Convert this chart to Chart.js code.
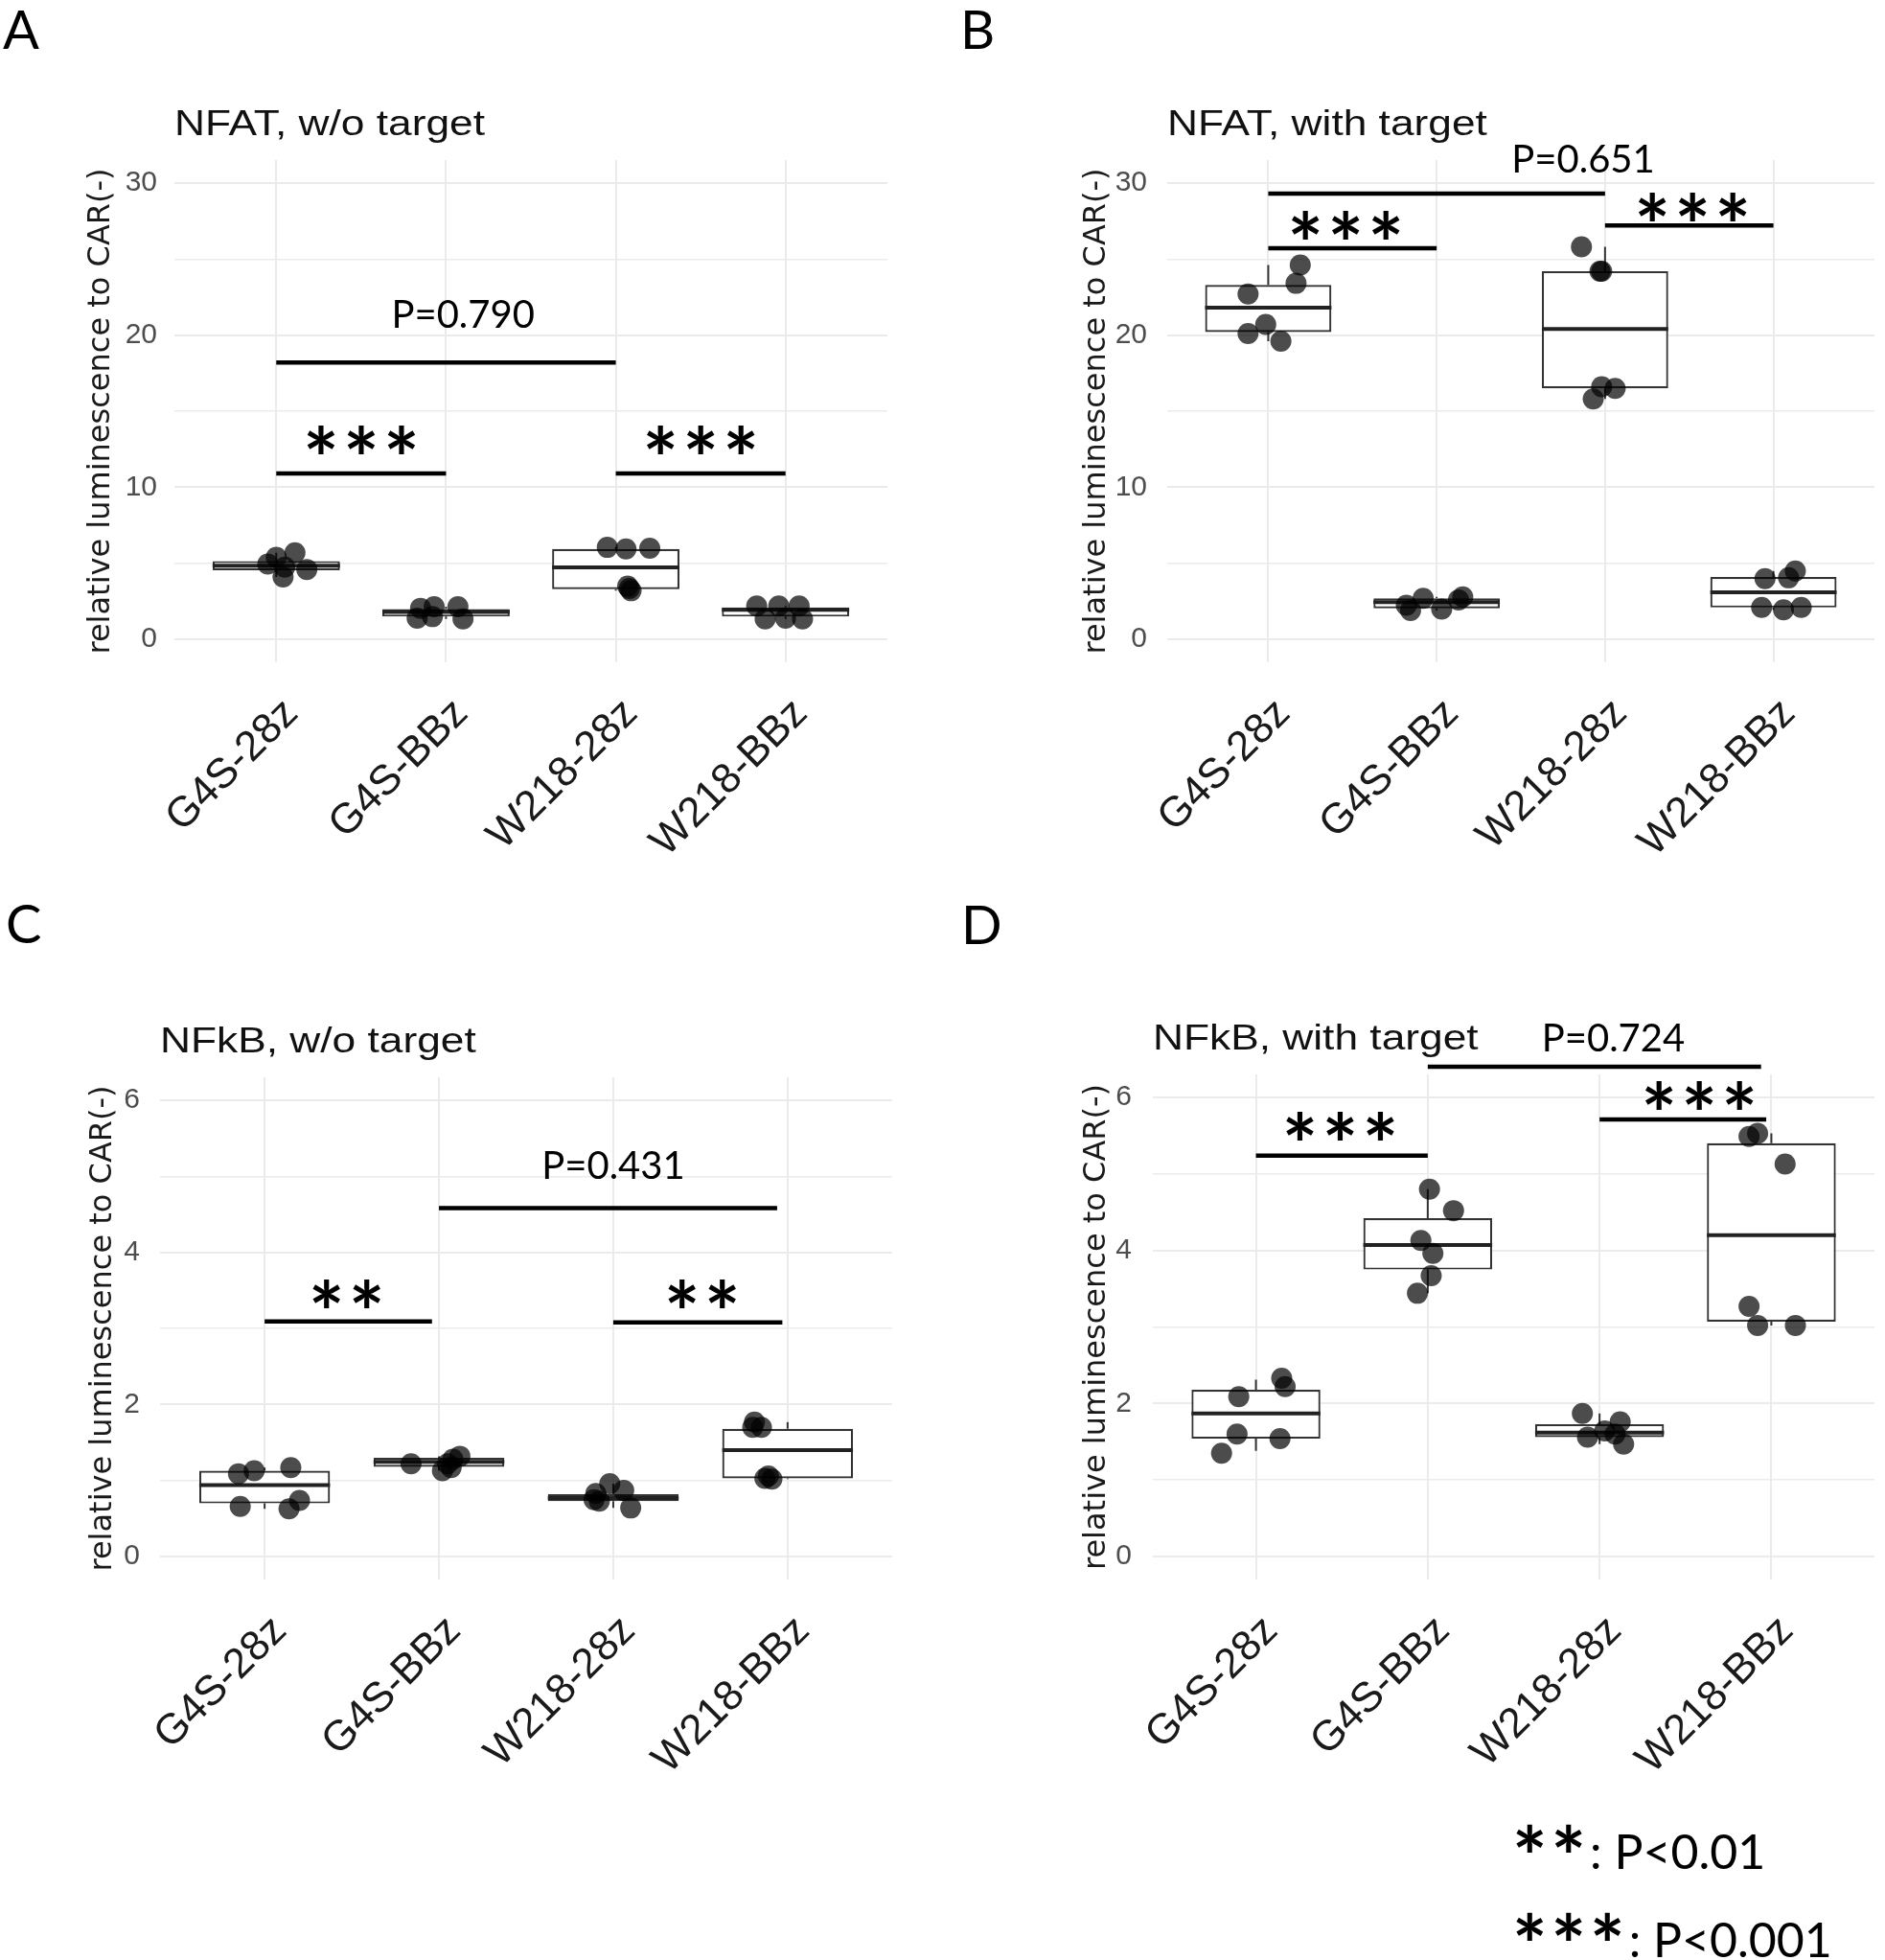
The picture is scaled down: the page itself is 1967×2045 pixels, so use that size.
<!DOCTYPE html>
<html>
<head>
<meta charset="utf-8">
<script src="https://cdn.jsdelivr.net/npm/chart.js@4.4.1/dist/chart.umd.min.js"></script>
<style>
  body { margin: 0; background: #fff; width: 1967px; height: 2045px; position: relative; overflow: hidden; }
  canvas { position: absolute; }
  .tag { position: absolute; font: 56px/56px Lato, sans-serif; color: #000; }
  .key { position: absolute; font: 50px/50px Lato, sans-serif; color: #000; white-space: nowrap; }
  .key .st { font-size: 86px; font-weight: 700; line-height: 0; letter-spacing: 4px; position: relative; top: 19px; }
</style>
</head>
<body>
<div class="tag" style="left:3px;top:2px">A</div>
<div class="tag" style="left:1002px;top:2px">B</div>
<div class="tag" style="left:6px;top:935px">C</div>
<div class="tag" style="left:1003px;top:936px">D</div>

<canvas id="chartA" width="983" height="940" style="left:0;top:0"></canvas>
<canvas id="chartB" width="984" height="940" style="left:983px;top:0"></canvas>
<canvas id="chartC" width="983" height="940" style="left:0;top:940px"></canvas>
<canvas id="chartD" width="984" height="940" style="left:983px;top:940px"></canvas>

<div class="key" style="left:1578px;top:1906px"><span class="st">**</span>: P&lt;0.01</div>
<div class="key" style="left:1578px;top:1998px"><span class="st">***</span>: P&lt;0.001</div>

<script>
const categories = ['G4S-28z', 'G4S-BBz', 'W218-28z', 'W218-BBz']
const yTitle = 'relative luminescence to CAR(-)'

const nfatTicks = [0, 10, 20, 30]
const nfatMinor = [5, 15, 25]
const nfkbTicks = [0, 2, 4, 6]
const nfkbMinor = [1, 3, 5]

// box rows are [lower whisker, q1, median, q3, upper whisker]

// ---- A: NFAT, w/o target
const nfatNoTgtPts = [
    [5.7, 5.4, 4.95, 4.75, 4.6, 4.1],
    [2.05, 2.15, 2.15, 1.4, 1.5, 1.35],
    [6.05, 5.95, 6.0, 3.5, 3.35, 3.2],
    [2.2, 2.2, 2.2, 1.35, 1.4, 1.35]
]
const nfatNoTgtJit = [
    [0.11, 0.0, -0.05, 0.05, 0.18, 0.04],
    [-0.15, -0.07, 0.07, -0.17, -0.08, 0.1],
    [-0.05, 0.06, 0.2, 0.07, 0.08, 0.09],
    [-0.17, -0.04, 0.08, -0.12, 0.0, 0.1]
]
const nfatNoTgtBox = [
    [4.1, 4.55, 4.85, 5.15, 5.7],
    [1.35, 1.5, 1.8, 2.0, 2.15],
    [3.2, 3.3, 4.73, 5.95, 6.05],
    [1.35, 1.5, 1.95, 2.1, 2.2]
]
const nfatNoTgtBars = [[0, 2, 18.2], [0, 1, 10.9], [2, 3, 10.9]]
const nfatNoTgtNotes = [['P=0.790', 1.1, 20.5], ['***', 0.5, 13.1], ['***', 2.5, 13.1]]

// ---- B: NFAT, with target
const nfatTgtPts = [
    [24.6, 23.4, 22.7, 20.7, 20.1, 19.6],
    [1.9, 2.25, 2.7, 2.0, 2.8, 2.6],
    [25.8, 24.2, 24.2, 16.6, 16.5, 15.8],
    [4.0, 4.05, 4.5, 2.1, 1.95, 2.1]
]
const nfatTgtJit = [
    [0.19, 0.165, -0.12, -0.015, -0.12, 0.075],
    [-0.155, -0.18, -0.08, 0.03, 0.155, 0.13],
    [-0.14, -0.03, -0.02, -0.02, 0.06, -0.07],
    [-0.05, 0.09, 0.13, -0.07, 0.06, 0.165]
]
const nfatTgtBox = [
    [19.6, 20.2, 21.8, 23.3, 24.6],
    [1.9, 2.05, 2.45, 2.7, 2.8],
    [15.8, 16.5, 20.4, 24.2, 25.8],
    [1.95, 2.1, 3.1, 4.1, 4.5]
]
const nfatTgtBars = [[0, 2, 29.3], [0, 1, 25.7], [2, 3, 27.2]]
const nfatTgtNotes = [['P=0.651', 1.87, 30.7], ['***', 0.46, 27.2], ['***', 2.52, 28.4]]

// ---- C: NFkB, w/o target
const nfkbNoTgtPts = [
    [1.09, 1.13, 1.17, 0.66, 0.63, 0.74],
    [1.22, 1.13, 1.22, 1.28, 1.32, 1.17],
    [0.75, 0.73, 0.96, 0.87, 0.64, 0.83],
    [1.77, 1.7, 1.7, 1.03, 1.02, 1.06]
]
const nfkbNoTgtJit = [
    [-0.15, -0.06, 0.15, -0.14, 0.14, 0.2],
    [-0.16, 0.02, 0.05, 0.08, 0.12, 0.07],
    [-0.11, -0.08, -0.02, 0.06, 0.1, -0.1],
    [-0.19, -0.15, -0.2, -0.13, -0.09, -0.11]
]
const nfkbNoTgtBox = [
    [0.63, 0.70, 0.94, 1.13, 1.17],
    [1.13, 1.18, 1.245, 1.30, 1.32],
    [0.64, 0.73, 0.77, 0.82, 0.96],
    [1.02, 1.03, 1.40, 1.68, 1.77]
]
const nfkbNoTgtBars = [[1, 2.94, 4.58], [0, 0.96, 3.09], [2, 2.97, 3.08]]
const nfkbNoTgtNotes = [['P=0.431', 2.0, 4.96], ['**', 0.47, 3.45], ['**', 2.51, 3.45]]

// ---- D: NFkB, with target
const nfkbTgtPts = [
    [2.09, 2.33, 2.22, 1.6, 1.54, 1.35],
    [4.8, 4.52, 4.13, 3.96, 3.67, 3.44],
    [1.87, 1.56, 1.76, 1.64, 1.6, 1.47],
    [5.49, 5.53, 5.13, 3.27, 3.02, 3.02]
]
const nfkbTgtJit = [
    [-0.1, 0.15, 0.17, -0.11, 0.14, -0.2],
    [0.01, 0.15, -0.04, 0.03, 0.02, -0.06],
    [-0.1, -0.07, 0.12, 0.03, 0.09, 0.14],
    [-0.13, -0.08, 0.08, -0.13, -0.08, 0.14]
]
const nfkbTgtBox = [
    [1.38, 1.54, 1.87, 2.18, 2.31],
    [3.44, 3.75, 4.07, 4.42, 4.8],
    [1.47, 1.56, 1.62, 1.73, 1.87],
    [3.02, 3.07, 4.2, 5.4, 5.53]
]
const nfkbTgtBars = [[1, 2.94, 6.4], [0, 1, 5.24], [2, 2.97, 5.71]]
const nfkbTgtNotes = [['P=0.724', 2.08, 6.6], ['***', 0.49, 5.62], ['***', 2.58, 6.03]]


const HALF = 0.375

function pointData(pts, jit) {
    const out = []
    pts.forEach((vals, i) => vals.forEach((v, k) => out.push({x: i + jit[i][k], y: v})))
    return out
}
function medianData(box) {
    return box.flatMap((b, i) => [{x: i - HALF, y: b[2]}, {x: i + HALF, y: b[2]}, {x: i + HALF, y: null}])
}
function whiskerData(box) {
    return box.flatMap((b, i) => [
        {x: i, y: b[3]}, {x: i, y: b[4]}, {x: i, y: null},
        {x: i, y: b[0]}, {x: i, y: b[1]}, {x: i, y: null}
    ])
}
function sigData(bars) {
    return bars.flatMap(([a, b, y]) => [{x: a, y: y}, {x: b, y: y}, {x: b, y: null}])
}

// titles, p values and stars
const notesPlugin = {
    id: 'notes',
    afterDatasetsDraw(chart, args, opts) {
        const {ctx, chartArea, scales} = chart
        ctx.save()
        ctx.fillStyle = '#111'
        ctx.textAlign = 'left'
        ctx.textBaseline = 'alphabetic'
        ctx.font = '36px "Liberation Sans"'
        ctx.translate(chartArea.left, chartArea.top - 26)
        ctx.scale(1.23, 1)
        ctx.fillText(opts.title, 0, 0)
        ctx.restore()

        ctx.save()
        ctx.fillStyle = '#000'
        ctx.textBaseline = 'alphabetic'
        ctx.textAlign = 'center'
        opts.notes.forEach(([text, lx, ly]) => {
            const px = scales.x.getPixelForValue(lx)
            const py = scales.y.getPixelForValue(ly)
            if (text[0] === '*') {
                ctx.font = '700 88px Lato'
                const m = ctx.measureText('*')
                const yy = py + (m.actualBoundingBoxAscent - m.actualBoundingBoxDescent) / 2
                const n = text.length
                for (let i = 0; i < n; i++) {
                    ctx.fillText('*', px + (i - (n - 1) / 2) * 42, yy)
                }
            } else {
                ctx.font = '40px Lato'
                ctx.fillText(text, px, py)
            }
        })
        ctx.restore()
    }
}

function makePanel(id, title, pts, jit, box, bars, notes, yRange, majors, minors, lay) {
    const yGrid = majors.concat(minors).sort((a, b) => a - b)
    return new Chart(document.getElementById(id), {
        type: 'line',
        data: {
            datasets: [
                {
                    data: pointData(pts, jit),
                    showLine: false,
                    pointRadius: 11,
                    pointBackgroundColor: 'rgba(0,0,0,0.70)',
                    pointBorderWidth: 0,
                    order: 0
                },
                {
                    data: sigData(bars),
                    borderColor: '#000',
                    borderWidth: 4.5,
                    pointRadius: 0,
                    spanGaps: false,
                    clip: false,
                    order: 0
                },
                {
                    data: medianData(box),
                    borderColor: '#222',
                    borderWidth: 4,
                    pointRadius: 0,
                    spanGaps: false,
                    order: 1
                },
                {
                    type: 'bar',
                    data: box.map((b, i) => ({x: i, y: [b[1], b[3]]})),
                    backgroundColor: '#fff',
                    borderColor: '#333',
                    borderWidth: 2.2,
                    borderSkipped: false,
                    categoryPercentage: 1,
                    barPercentage: 0.75,
                    order: 2
                },
                {
                    data: whiskerData(box),
                    borderColor: '#333',
                    borderWidth: 2,
                    pointRadius: 0,
                    spanGaps: false,
                    order: 3
                }
            ]
        },
        options: {
            responsive: false,
            devicePixelRatio: 1,
            animation: false,
            events: [],
            layout: {padding: {left: 0, top: lay.top, right: lay.right, bottom: 0}},
            plugins: {
                legend: {display: false},
                tooltip: {enabled: false},
                notes: {title: title, notes: notes}
            },
            scales: {
                x: {
                    type: 'linear',
                    min: -0.6,
                    max: 3.6,
                    offset: false,
                    afterBuildTicks: s => { s.ticks = categories.map((c, i) => ({value: i})) },
                    afterFit: s => { s.height = lay.xHeight },
                    ticks: {
                        callback: v => categories[v],
                        autoSkip: false,
                        minRotation: 45,
                        maxRotation: 45,
                        labelOffset: 16,
                        padding: 28,
                        color: '#1a1a1a',
                        font: {family: '"Liberation Sans"', size: 44}
                    },
                    grid: {color: '#ebebeb', lineWidth: 2, drawTicks: false, offset: false},
                    border: {display: false}
                },
                y: {
                    min: yRange[0],
                    max: yRange[1],
                    afterBuildTicks: s => { s.ticks = yGrid.map(v => ({value: v})) },
                    afterFit: s => { s.width = lay.yWidth },
                    ticks: {
                        callback: v => majors.includes(v) ? String(v) : '',
                        autoSkip: false,
                        padding: lay.tickPad,
                        color: '#4d4d4d',
                        font: {family: '"Liberation Sans"', size: 30}
                    },
                    grid: {
                        color: '#ebebeb',
                        lineWidth: c => majors.includes(c.tick.value) ? 2 : 1.4,
                        drawTicks: false
                    },
                    border: {display: false},
                    title: {
                        display: true,
                        text: yTitle,
                        color: '#1a1a1a',
                        font: {family: '"DejaVu Sans"', size: 32},
                        padding: {top: lay.titlePad, bottom: 0}
                    }
                }
            }
        },
        plugins: [notesPlugin]
    })
}

makePanel('chartA', 'NFAT, w/o target', nfatNoTgtPts, nfatNoTgtJit, nfatNoTgtBox, nfatNoTgtBars, nfatNoTgtNotes,
    [-1.5, 31.5], nfatTicks, nfatMinor, {top: 167, right: 57, xHeight: 249, yWidth: 182, tickPad: 18, titlePad: 86})
makePanel('chartB', 'NFAT, with target', nfatTgtPts, nfatTgtJit, nfatTgtBox, nfatTgtBars, nfatTgtNotes,
    [-1.5, 31.5], nfatTicks, nfatMinor, {top: 167, right: 0, xHeight: 249, yWidth: 235, tickPad: 21, titlePad: 142})
makePanel('chartC', 'NFkB, w/o target', nfkbNoTgtPts, nfkbNoTgtJit, nfkbNoTgtBox, nfkbNoTgtBars, nfkbNoTgtNotes,
    [-0.3, 6.3], nfkbTicks, nfkbMinor, {top: 184, right: 52, xHeight: 232, yWidth: 167, tickPad: 21, titlePad: 88})
makePanel('chartD', 'NFkB, with target', nfkbTgtPts, nfkbTgtJit, nfkbTgtBox, nfkbTgtBars, nfkbTgtNotes,
    [-0.3, 6.3], nfkbTicks, nfkbMinor, {top: 181, right: 0, xHeight: 232, yWidth: 220, tickPad: 22, titlePad: 142})
</script>
</body>
</html>
